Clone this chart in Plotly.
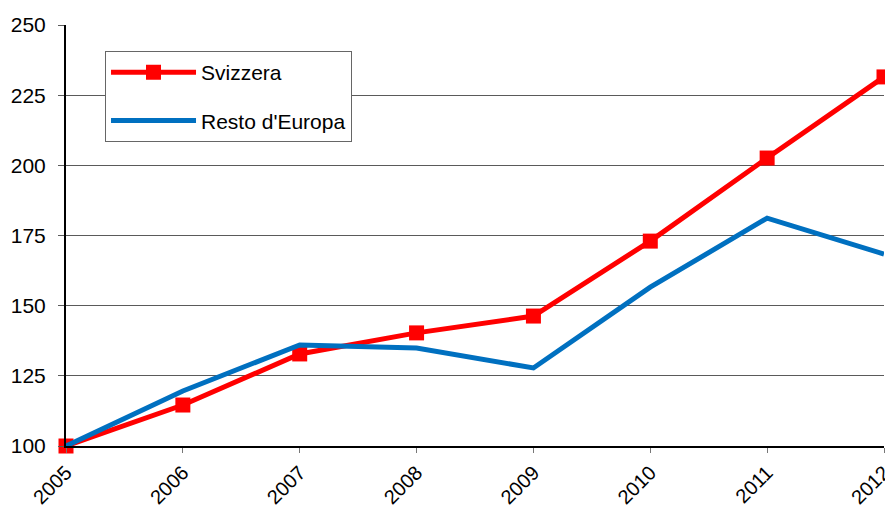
import plotly.graph_objects as go

years = [2005, 2006, 2007, 2008, 2009, 2010, 2011, 2012]
svizzera = [100, 114.6, 132.8, 140.3, 146.3, 173.0, 202.6, 231.5]
resto_europa = [100, 119.6, 136.0, 134.9, 127.8, 156.6, 181.2, 168.4]
y_ticks = [100, 125, 150, 175, 200, 225, 250]

fig = go.Figure()
fig.add_trace(go.Scatter(
    x=years, y=svizzera, name="Svizzera", mode="lines+markers",
    line=dict(color="#FF0000", width=5),
    marker=dict(symbol="square", size=15, color="#FF0000"),
    cliponaxis=False, legendgroup="a",
))
fig.add_trace(go.Scatter(
    x=years, y=resto_europa, name="Resto d'Europa", mode="lines",
    line=dict(color="#0070C0", width=5),
    cliponaxis=False, legendgroup="b",
))

fig.update_layout(
    width=885, height=505,
    margin=dict(l=66, r=1, t=25, b=59, autoexpand=False),
    paper_bgcolor="white", plot_bgcolor="white",
    font=dict(family="Liberation Sans, Arial, sans-serif", size=21, color="black"),
    showlegend=True,
    legend=dict(
        x=0.0477, y=0.938, xanchor="left", yanchor="top",
        bordercolor="#666666", borderwidth=1, bgcolor="white",
        font=dict(size=21), tracegroupgap=18, itemwidth=85,
    ),
    xaxis=dict(
        range=[2005, 2012], tickmode="array", tickvals=years,
        ticktext=[str(y) for y in years], tickangle=-45,
        tickfont=dict(size=20),
        ticklabeloverflow="allow",
        showgrid=False, showline=True, linecolor="black", linewidth=2,
        ticks="outside", ticklen=5, tickcolor="#777777", zeroline=False,
        fixedrange=True, automargin=False,
    ),
    yaxis=dict(
        range=[100, 250], tickmode="array", tickvals=y_ticks,
        showgrid=True, gridcolor="#5a5a5a", gridwidth=1,
        showline=True, linecolor="black", linewidth=2,
        ticks="outside", ticklen=6, tickcolor="#5a5a5a", zeroline=False,
        ticklabelstandoff=8,
        fixedrange=True, automargin=False,
    ),
)

fig.write_html(
    "out.html",
    config={"displayModeBar": False, "staticPlot": True},
    post_script="document.body.style.margin='0px';document.body.style.overflow='hidden';",
)
